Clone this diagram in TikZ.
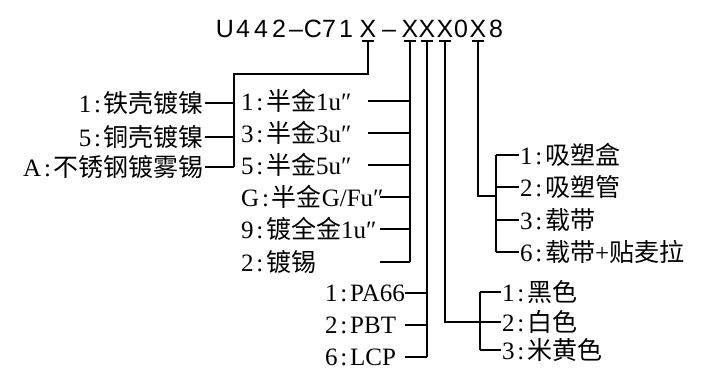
\documentclass[tikz,border=0pt]{standalone}
\usepackage{fontspec}
\setmainfont{Liberation Serif}
\newfontfamily\cjk{Noto Sans CJK SC}
\newfontfamily\tfont{Liberation Sans}
\newcommand{\cl}{\makebox[0.5em]{:}}
\begin{document}
\begin{tikzpicture}[x=1pt,y=-1pt,
  conn/.style={line width=1.6pt},
  lbl/.style={font=\fontsize{25}{27}\selectfont, inner sep=1pt},
  tch/.style={font=\tfont\fontsize{25}{27}\selectfont, inner sep=0pt, anchor=base}]
\useasboundingbox (0,0) rectangle (708,374);
% title characters
\foreach \c/\x [count=\i from 0] in {U/225,4/243,4/261,2/279,–/296,C/313,7/329,1/346,X/368,–/389,X/410,X/427,X/445,0/461,X/478,8/496}
  \node[tch] (t\i) at (\x,38) {\c};
% underline bars under the X's
\foreach \i in {8,10,11,12,14}
  \draw[conn] ([xshift=-6pt,yshift=-3pt]t\i.base) -- ([xshift=6pt,yshift=-3pt]t\i.base);
% left group (shell)
\node[lbl, anchor=east] (l1) at (205,103) {1\cl{\cjk 铁壳镀镍}};
\node[lbl, anchor=east] (l2) at (205,137) {5\cl{\cjk 铜壳镀镍}};
\node[lbl, anchor=east] (l3) at (205,167) {A\cl{\cjk 不锈钢镀雾锡}};
\coordinate (jL) at (234,74);
\draw[conn] ([yshift=-3pt]t8.base) |- (jL) -- (jL |- l3);
\foreach \n in {l1,l2,l3} \draw[conn] (\n.east) -- (\n -| jL);
% middle group (plating)
\node[lbl, anchor=west] (m1) at (240,101) {1\cl{\cjk 半金}1u″};
\node[lbl, anchor=west] (m2) at (240,133) {3\cl{\cjk 半金}3u″};
\node[lbl, anchor=west] (m3) at (240,165) {5\cl{\cjk 半金}5u″};
\node[lbl, anchor=west] (m4) at (240,197) {G\cl{\cjk 半金}G/Fu″};
\node[lbl, anchor=west] (m5) at (240,229) {9\cl{\cjk 镀全金}1u″};
\node[lbl, anchor=west] (m6) at (240,262) {2\cl{\cjk 镀锡}};
\draw[conn] ([yshift=-3pt]t10.base) -- (t10.base |- m6);
\foreach \n in {m1,m2,m3} \draw[conn] (\n.west) ++(128,0) -- (\n -| t10);
\foreach \n in {m4,m5,m6} \draw[conn] (\n.west) ++(140,0) -- (\n -| t10);
% plastic group
\node[lbl, anchor=west] (p1) at (324,293) {1\cl PA66};
\node[lbl, anchor=west] (p2) at (324,325) {2\cl PBT};
\node[lbl, anchor=west] (p3) at (324,357) {6\cl LCP};
\draw[conn] ([yshift=-3pt]t11.base) -- (t11.base |- p3);
\foreach \n in {p1,p2,p3} \draw[conn] (\n.west) ++(81,0) -- (\n -| t11);
% colour group
\node[lbl, anchor=west] (c1) at (501,292) {1\cl{\cjk 黑色}};
\node[lbl, anchor=west] (c2) at (501,322) {2\cl{\cjk 白色}};
\node[lbl, anchor=west] (c3) at (501,350) {3\cl{\cjk 米黄色}};
\coordinate (cb) at (480,322);
\draw[conn] ([yshift=-3pt]t12.base) |- (cb);
\draw[conn] (c1 -| cb) -- (c3 -| cb);
\foreach \n in {c1,c2,c3} \draw[conn] (\n -| cb) -- (\n.west);
% packaging group
\node[lbl, anchor=west] (k1) at (519,155) {1\cl{\cjk 吸塑盒}};
\node[lbl, anchor=west] (k2) at (519,187) {2\cl{\cjk 吸塑管}};
\node[lbl, anchor=west] (k3) at (519,220) {3\cl{\cjk 载带}};
\node[lbl, anchor=west] (k4) at (519,252) {6\cl{\cjk 载带}+{\cjk 贴麦拉}};
\coordinate (kb) at (496,196);
\draw[conn] ([yshift=-3pt]t14.base) |- (kb);
\draw[conn] (k1 -| kb) -- (k4 -| kb);
\foreach \n in {k1,k2,k3,k4} \draw[conn] (\n -| kb) -- (\n.west);
\end{tikzpicture}
\end{document}
